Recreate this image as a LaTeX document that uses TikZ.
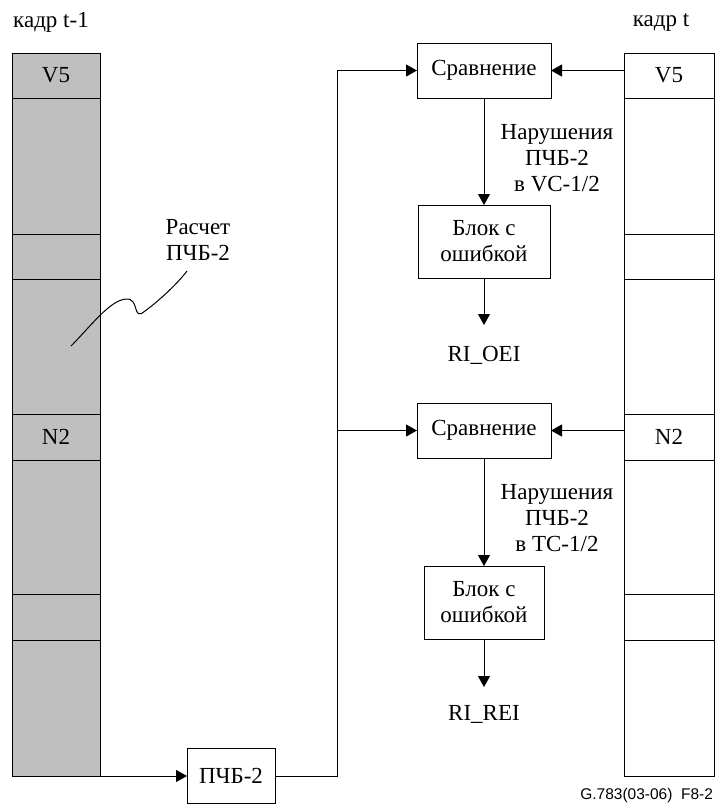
\documentclass[tikz,border=0pt]{standalone}
\usepackage{fontspec}
\setmainfont{Liberation Serif}
\newfontfamily\footfont{Liberation Sans}
\usetikzlibrary{arrows.meta, positioning}

\begin{document}
\begin{tikzpicture}[x=1pt, y=-1pt,
      every node/.style={font=\fontsize{23}{26}\selectfont, align=center, inner sep=0pt, outer sep=0pt},
      cell/.style={draw, line width=1pt, minimum width=88pt},
      box/.style={draw, line width=1pt, minimum height=55pt},
      line/.style={line width=1pt},
      arrow/.style={line width=1pt, -{Triangle[length=11pt, width=12pt]}}
      ]
    \useasboundingbox (0,0) rectangle (716,807);

    % Frame t-1 (left column)
    \node (titleL) at (51,22) {кадр t-1};
    \node (l1) [cell, fill=gray!50, minimum height=45pt] at (56,75.5) {V5};
    \node (l2) [cell, fill=gray!50, minimum height=136pt, below=0pt of l1] {};
    \node (l3) [cell, fill=gray!50, minimum height=45pt, below=0pt of l2] {};
    \node (l4) [cell, fill=gray!50, minimum height=135pt, below=0pt of l3] {};
    \node (l5) [cell, fill=gray!50, minimum height=46pt, below=0pt of l4] {N2};
    \node (l6) [cell, fill=gray!50, minimum height=134pt, below=0pt of l5] {};
    \node (l7) [cell, fill=gray!50, minimum height=46pt, below=0pt of l6] {};
    \node (l8) [cell, fill=gray!50, minimum height=136pt, below=0pt of l7] {};

    % Frame t (right column)
    \node (titleR) at (661,22) {кадр t};
    \node (r1) [cell, minimum width=90pt, minimum height=45pt] at (669,75.5) {V5};
    \node (r2) [cell, minimum width=90pt, minimum height=136pt, below=0pt of r1] {};
    \node (r3) [cell, minimum width=90pt, minimum height=45pt, below=0pt of r2] {};
    \node (r4) [cell, minimum width=90pt, minimum height=135pt, below=0pt of r3] {};
    \node (r5) [cell, minimum width=90pt, minimum height=46pt, below=0pt of r4] {N2};
    \node (r6) [cell, minimum width=90pt, minimum height=134pt, below=0pt of r5] {};
    \node (r7) [cell, minimum width=90pt, minimum height=46pt, below=0pt of r6] {};
    \node (r8) [cell, minimum width=90pt, minimum height=136pt, below=0pt of r7] {};

    % BIP-2 calculation
    \node (calc) at (198,240) {Расчет\\ПЧБ-2};
    \coordinate (calcpt) at (71,346);
    \node (bip) [box, minimum width=88pt] at (231,776) {ПЧБ-2};

    % Upper branch (VC)
    \node (cmp1) [box, minimum width=134pt] at (484,70.5) {Сравнение};
    \node (viol1) at (557,158) {Нарушения\\ПЧБ-2\\в VC-1/2};
    \node (err1) [box, minimum width=132pt, minimum height=73pt] at (484,241.5) {Блок с\\ошибкой};
    \coordinate (tip1) at (484,325);
    \node (oei) at (484,355) {RI\_OEI};

    % Lower branch (TC)
    \node (cmp2) [box, minimum width=134pt] at (484,430.5) {Сравнение};
    \node (viol2) at (557,518) {Нарушения\\ПЧБ-2\\в TC-1/2};
    \node (err2) [box, minimum width=120pt, minimum height=73pt] at (484,602.5) {Блок с\\ошибкой};
    \coordinate (tip2) at (484,687);
    \node (rei) at (484,714) {RI\_REI};

    \node (fig) [anchor=east, font=\footfont\fontsize{15.5}{17}\selectfont] at (713,795) {G.783(03-06)\ \ F8-2};

    % Connectors
    \draw [line] (calcpt) .. controls (90,327) and (110,300) .. (126,299) .. controls (140,298) and (132,322) .. (145,311) .. controls (160,300) and (178,283) .. (187,271);
    \draw [arrow] (l8.south east) -- (bip.west);
    \coordinate (jn) at (337,430.5);
    \draw [arrow] (bip.east) -| (jn |- cmp1.west) -- (cmp1.west);
    \draw [arrow] (jn) -- (cmp2.west);
    \draw [arrow] (r1.west |- cmp1.east) -- (cmp1.east);
    \draw [arrow] (r5.west |- cmp2.east) -- (cmp2.east);
    \draw [arrow] (cmp1) -- (err1);
    \draw [arrow] (err1) -- (tip1);
    \draw [arrow] (cmp2) -- (err2);
    \draw [arrow] (err2) -- (tip2);

\end{tikzpicture}
\end{document}
